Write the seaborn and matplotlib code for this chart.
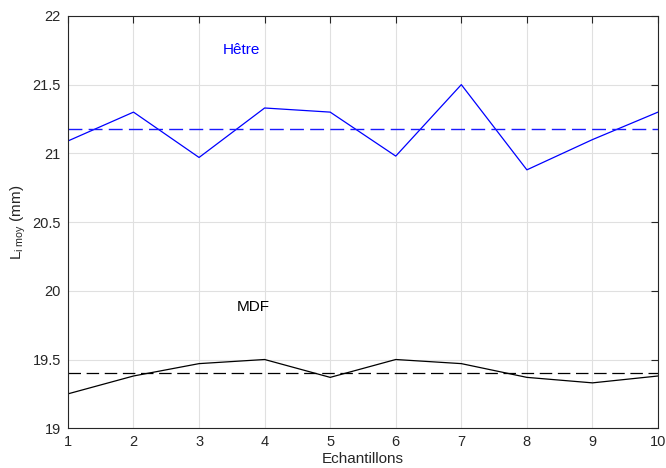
import numpy as np
import pandas as pd
import matplotlib
matplotlib.use("Agg")
import matplotlib.pyplot as plt
import seaborn as sns

echantillons = [1, 2, 3, 4, 5, 6, 7, 8, 9, 10]
hetre = [21.09, 21.30, 20.97, 21.33, 21.30, 20.98, 21.50, 20.88, 21.10, 21.30]
mdf = [19.25, 19.38, 19.47, 19.50, 19.37, 19.50, 19.47, 19.37, 19.33, 19.38]
yticks = [19, 19.5, 20, 20.5, 21, 21.5, 22]
yticklabels = ["19", "19.5", "20", "20.5", "21", "21.5", "22"]

sns.set_style("white")
plt.rcParams['font.family'] = ['Liberation Sans', 'DejaVu Sans']
plt.rcParams['mathtext.fontset'] = 'custom'
plt.rcParams['mathtext.rm'] = 'Liberation Sans'
plt.rcParams['mathtext.it'] = 'Liberation Sans'

df = pd.DataFrame({"x": echantillons, "Hetre": hetre, "MDF": mdf})

fig = plt.figure(figsize=(6.66, 4.68), dpi=100)
ax = fig.add_axes([0.102, 0.085, 0.886, 0.881])

sns.lineplot(data=df, x="x", y="Hetre", color="#0000ff", lw=0.9, ax=ax)
sns.lineplot(data=df, x="x", y="MDF", color="black", lw=0.9, ax=ax)
ax.axhline(np.mean(hetre), color="#1a1aff", ls=(0, (10, 4.5)), lw=1.0)
ax.axhline(np.mean(mdf), color="black", ls=(0, (10, 4.5)), lw=0.9)

ax.text(3.65, 21.75, "Hêtre", color="#0000ff", fontsize=11, ha="center", va="center")
ax.text(3.82, 19.88, "MDF", color="black", fontsize=11, ha="center", va="center")

ax.set_xlim(1, 10)
ax.set_ylim(19, 22)
ax.set_xticks(echantillons)
ax.set_yticks(yticks)
ax.set_yticklabels(yticklabels)
ax.grid(True, color="#e0e0e0", lw=0.8)
ax.tick_params(direction="in", top=True, right=True, labelsize=10.5, length=5,
               width=0.8, colors="#262626", labelcolor="#262626", pad=5)
for s in ax.spines.values():
    s.set_color("#262626")
    s.set_linewidth(0.8)

ax.set_xlabel("Echantillons", fontsize=11, color="#262626", labelpad=2)
ax.set_ylabel(r"L$_{\mathrm{i\ moy}}$ (mm)", fontsize=11, color="#262626", labelpad=3)

fig.savefig("out.png", dpi=100)
